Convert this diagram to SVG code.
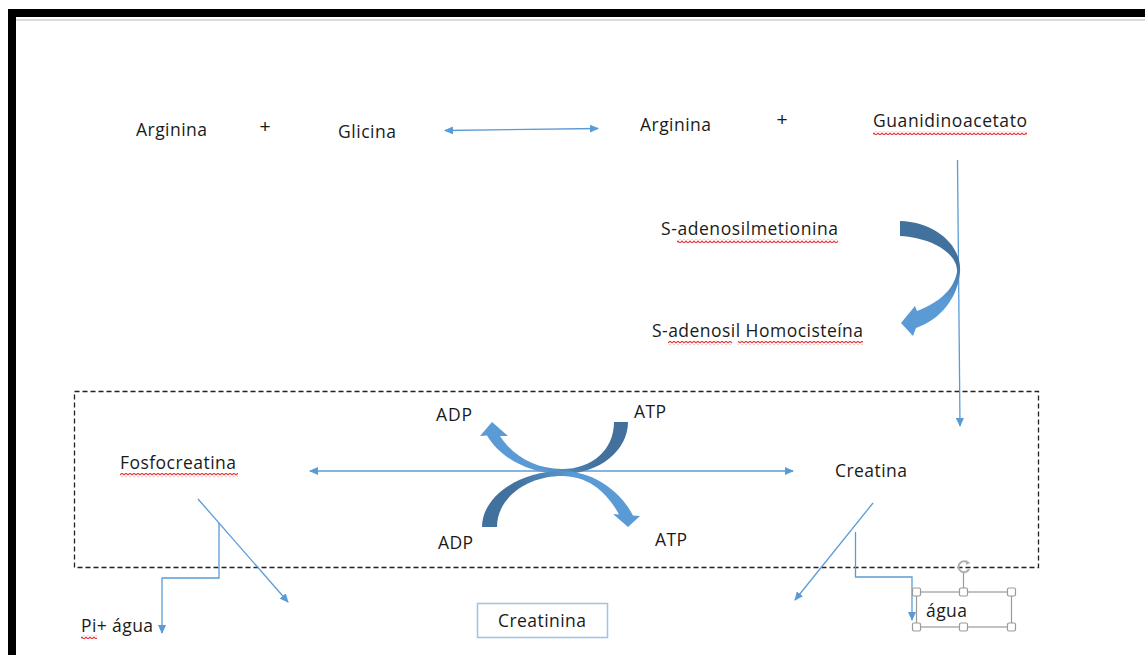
<svg xmlns="http://www.w3.org/2000/svg" width="1145" height="655" viewBox="0 0 1145 655">
<defs>
<style>
.t{font-family:"Open Sans","Liberation Sans",sans-serif;font-size:17.5px;fill:#1a1a1a}
.p{font-family:"Liberation Sans",sans-serif;font-size:19px;fill:#1a1a1a}
.c{stroke:#5b9bd5;stroke-width:1.3;fill:none}
.h{fill:#fff;stroke:#9a9a9a;stroke-width:1.2}
</style>
<marker id="ae" markerWidth="9" markerHeight="8" refX="8" refY="4" orient="auto" markerUnits="userSpaceOnUse"><path d="M0 0 L9 4 L0 8 Z" fill="#5b9bd5"/></marker>
<marker id="as" markerWidth="9" markerHeight="8" refX="1" refY="4" orient="auto" markerUnits="userSpaceOnUse"><path d="M9 0 L0 4 L9 8 Z" fill="#5b9bd5"/></marker>
<pattern id="sq" width="4" height="4" patternUnits="userSpaceOnUse"><path d="M0 3 L2 1 L4 3" stroke="#e23b3d" stroke-width="1.2" fill="none"/></pattern>
<linearGradient id="gv" x1="0" y1="0" x2="0" y2="1"><stop offset="0.35" stop-color="#41719c"/><stop offset="0.7" stop-color="#5b9bd5"/></linearGradient>
<linearGradient id="g1" x1="1" y1="0" x2="0" y2="0"><stop offset="0.2" stop-color="#41719c"/><stop offset="0.6" stop-color="#5b9bd5"/></linearGradient>
<linearGradient id="g2" x1="0" y1="0" x2="1" y2="0"><stop offset="0.2" stop-color="#41719c"/><stop offset="0.6" stop-color="#5b9bd5"/></linearGradient>
</defs>
<rect width="1145" height="655" fill="#fff"/>
<g id="frame">
<rect x="8" y="9" width="1137" height="8" fill="#000"/>
<rect x="8" y="9" width="8" height="646" fill="#000"/>
<line x1="16" y1="20" x2="1145" y2="20" stroke="#cfcfcf" stroke-width="1.5"/>
</g>
<g id="dashbox"><rect x="74.5" y="391.5" width="964" height="176" fill="none" stroke="#222" stroke-width="1.3" stroke-dasharray="5,3"/></g>
<g id="connectors">
<line class="c" x1="445" y1="130.5" x2="598" y2="128.5" marker-start="url(#as)" marker-end="url(#ae)"/>
<line class="c" x1="957.5" y1="160" x2="960" y2="426" marker-end="url(#ae)"/>
<line class="c" x1="310" y1="471" x2="793" y2="471" marker-start="url(#as)" marker-end="url(#ae)"/>
<line class="c" x1="198" y1="499" x2="288" y2="602" marker-end="url(#ae)"/>
<polyline class="c" points="219,523 219,578 162,578 162,633" marker-end="url(#ae)"/>
<line class="c" x1="873" y1="503" x2="795" y2="600" marker-end="url(#ae)"/>
<polyline class="c" points="855.5,532 855.5,577 912,577 912,620" marker-end="url(#ae)"/>
</g>
<g id="curved-arrow"><path d="M900 221 C935 222 962 245 960 272 C958 298 940 320 916 328 L913 336 L901 323 L915 306 L917 311 C938 303 954 290 957 272 C958 255 935 238 900 236 Z" fill="url(#gv)"/></g>
<g id="cross-arrow-1"><path d="M614 422 L628 422 C628 450 600 474 562 474 C530 474 500 458 487 435.5 L480 436 L492 422 L508 436 L500 436 C512 455 535 469 562 469 C592 469 614 450 614 422 Z" fill="url(#g1)"/></g>
<g id="cross-arrow-2"><path d="M482 527 C482 496 520 471 562 471 C592 471 620 490 633 515.5 L640 516 L628 527 L613 514 L619 514.5 C607 492 588 476 562 476 C528 476 497 497 497 527 Z" fill="url(#g2)"/></g>
<g id="n-arginina1"><text class="t" x="136" y="136" textLength="71">Arginina</text></g>
<g id="n-plus1"><text class="p" x="259.5" y="133">+</text></g>
<g id="n-glicina"><text class="t" x="338" y="138" textLength="58">Glicina</text></g>
<g id="n-arginina2"><text class="t" x="640" y="131" textLength="71">Arginina</text></g>
<g id="n-plus2"><text class="p" x="776.5" y="126">+</text></g>
<g id="n-guanidinoacetato"><text class="t" x="873" y="127" textLength="154">Guanidinoacetato</text><rect x="873" y="131" width="154" height="4" fill="url(#sq)"/></g>
<g id="n-sam"><text class="t" x="661" y="235" textLength="177">S-adenosilmetionina</text><rect x="677" y="239" width="161" height="4" fill="url(#sq)"/></g>
<g id="n-sah"><text class="t" x="652" y="337" textLength="211">S-adenosil Homocisteína</text><rect x="668" y="341" width="64" height="4" fill="url(#sq)"/><rect x="738" y="341" width="125" height="4" fill="url(#sq)"/></g>
<g id="n-adp1"><text class="t" x="436" y="421" textLength="36">ADP</text></g>
<g id="n-atp1"><text class="t" x="634" y="418" textLength="32">ATP</text></g>
<g id="n-fosfocreatina"><text class="t" x="120" y="469" textLength="116">Fosfocreatina</text><rect x="120" y="473" width="118" height="4" fill="url(#sq)"/></g>
<g id="n-creatina"><text class="t" x="835" y="477" textLength="72">Creatina</text></g>
<g id="n-adp2"><text class="t" x="438" y="549" textLength="35">ADP</text></g>
<g id="n-atp2"><text class="t" x="655" y="546" textLength="32">ATP</text></g>
<g id="n-pi"><text class="t" x="81" y="632" textLength="72">Pi+ água</text><rect x="81" y="635" width="16" height="4" fill="url(#sq)"/></g>
<g id="n-creatinina"><rect x="477.5" y="603.5" width="130" height="34" fill="#fff" stroke="#9dc3e6" stroke-width="1.5"/><text class="t" x="542" y="627" text-anchor="middle" textLength="88">Creatinina</text></g>
<g id="n-agua">
<rect x="916.5" y="592" width="95" height="35" fill="none" stroke="#9a9a9a" stroke-width="1.2"/>
<line x1="963.5" y1="592" x2="963.5" y2="573" stroke="#9a9a9a" stroke-width="1.2"/>
<path d="M968 563 A5.5 5.5 0 1 0 969 569" fill="none" stroke="#b0b0b0" stroke-width="2"/>
<path d="M966 560 L970 563 L966 565 Z" fill="#b0b0b0"/>
<rect class="h" x="912.5" y="588" width="8" height="8" rx="1.5"/>
<rect class="h" x="959.5" y="588" width="8" height="8" rx="1.5"/>
<rect class="h" x="1007.5" y="588" width="8" height="8" rx="1.5"/>
<rect class="h" x="912.5" y="623" width="8" height="8" rx="1.5"/>
<rect class="h" x="959.5" y="623" width="8" height="8" rx="1.5"/>
<rect class="h" x="1007.5" y="623" width="8" height="8" rx="1.5"/>
<text class="t" x="926" y="617" textLength="41">água</text>
</g>
</svg>
